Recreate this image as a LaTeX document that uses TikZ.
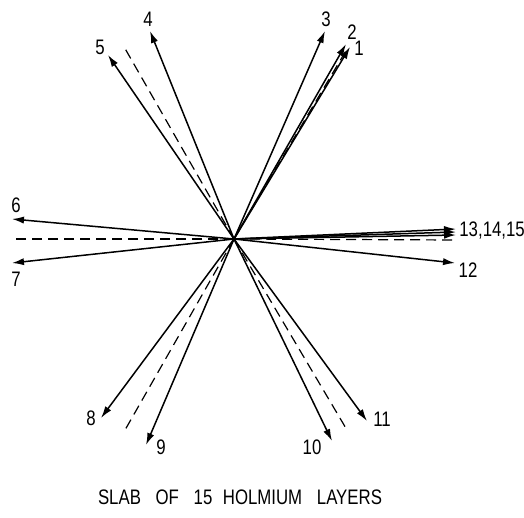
\documentclass[tikz,border=0pt]{standalone}
\usepackage{fontspec}
\setmainfont{Liberation Sans}[FakeStretch=0.8]
\usetikzlibrary{arrows.meta}

\begin{document}
\begin{tikzpicture}[
  x=0.5pt, y=-0.5pt,
  vec/.style={-{Latex[length=6pt,width=3.6pt]}, line width=0.75pt},
  axis/.style={dashed, dash pattern=on 5pt off 3pt, line width=0.6pt},
  lab/.style={font=\fontsize{10.5}{12}\selectfont, inner sep=0pt}
]
\useasboundingbox (0,0) rectangle (524,518);

% origin of the slab
\coordinate (O) at (234,239);

% arrow tips, layer by layer
\coordinate (t1) at (350,47);
\coordinate (t2) at (346,44);
\coordinate (t3) at (325,31);
\coordinate (t4) at (150,31);
\coordinate (t5) at (108,55);
\coordinate (t6) at (12,219);
\coordinate (t7) at (12,263);
\coordinate (t8) at (101,418);
\coordinate (t9) at (146,445);
\coordinate (t10) at (332,441);
\coordinate (t11) at (367,421);
\coordinate (t12) at (455,263);
\coordinate (t13) at (456,229);
\coordinate (t14) at (456,232);
\coordinate (t15) at (456,235);

% ends of the dashed axes
\coordinate (d1) at (347,49);
\coordinate (d2) at (123,45);
\coordinate (d3) at (12,239);
\coordinate (d4) at (125,430);
\coordinate (d5) at (347,430);
\coordinate (d6) at (456,240);

\draw[axis] (O) -- (d1);
\draw[axis] (O) -- (d2);
\draw[axis] (O) -- (d3);
\draw[axis] (O) -- (d4);
\draw[axis] (O) -- (d5);
\draw[axis] (O) -- (d6);

\draw[vec] (O) -- (t1);
\draw[vec] (O) -- (t2);
\draw[vec] (O) -- (t3);
\draw[vec] (O) -- (t4);
\draw[vec] (O) -- (t5);
\draw[vec] (O) -- (t6);
\draw[vec] (O) -- (t7);
\draw[vec] (O) -- (t8);
\draw[vec] (O) -- (t9);
\draw[vec] (O) -- (t10);
\draw[vec] (O) -- (t11);
\draw[vec] (O) -- (t12);
\draw[vec] (O) -- (t13);
\draw[vec] (O) -- (t14);
\draw[vec] (O) -- (t15);

% labels
\node[lab] (l1) at (359,48) {1};
\node[lab] (l2) at (352,32) {2};
\node[lab] (l3) at (326,19) {3};
\node[lab] (l4) at (148,19) {4};
\node[lab] (l5) at (100,47) {5};
\node[lab] (l6) at (16,205) {6};
\node[lab] (l7) at (16,279) {7};
\node[lab] (l8) at (91,418) {8};
\node[lab] (l9) at (161,447) {9};
\node[lab] (l10) at (312,447) {10};
\node[lab] (l11) at (382,419) {11};
\node[lab] (l12) at (468,270) {12};
\node[lab, anchor=west] (l13) at (459,231) {13,14,15};

\node[lab] (title) at (240,497) {SLAB\hspace{0.7em}OF\hspace{0.7em}15\hspace{0.5em}HOLMIUM\hspace{0.7em}LAYERS};
\end{tikzpicture}
\end{document}
